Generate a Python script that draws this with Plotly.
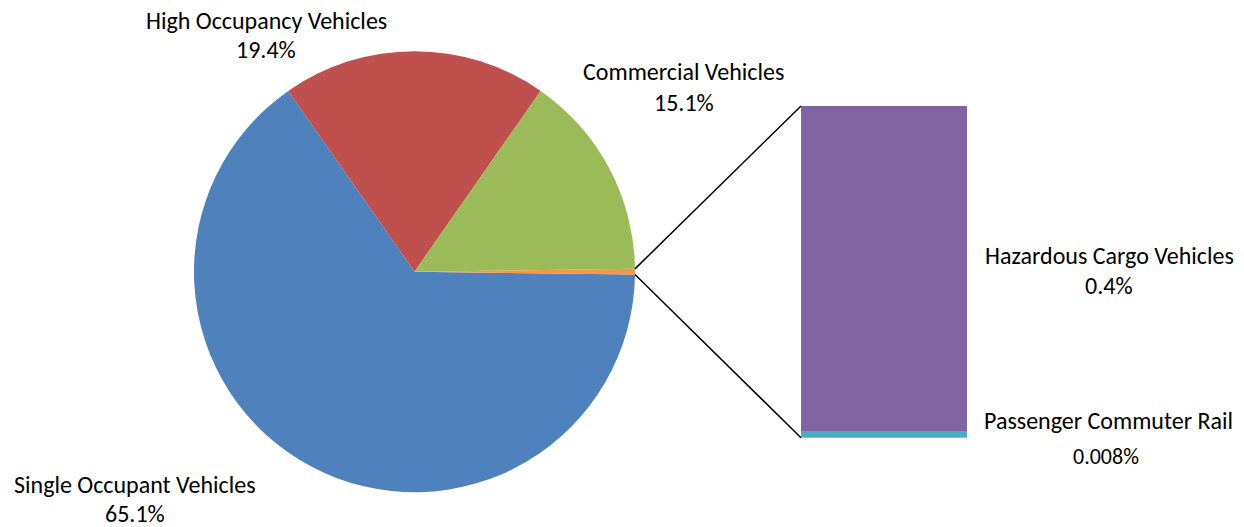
import math
import plotly.graph_objects as go

W, H = 1244, 527

# Main pie shares (percent); the last slice is broken out into the stacked bar
pie_labels = ["Single Occupant Vehicles", "High Occupancy Vehicles", "Commercial Vehicles", "Other"]
pie_values = [65.1, 19.4, 15.1, 0.408]
pie_colors = ["#4F81BD", "#C0504D", "#9BBB59", "#F79646"]

# Breakdown of the "Other" slice (percent)
bar_labels = ["Passenger Commuter Rail", "Hazardous Cargo Vehicles"]
bar_values = [0.008, 0.4]
bar_colors = ["#4BACC6", "#8064A2"]
bar_text = ["0.008%", "0.4%"]

FONT = "Carlito, Calibri, Lato, sans-serif"

# Pie geometry in pixels
cx, cy, r = 414.5, 271.7, 220.5
total = sum(pie_values)
other_deg = pie_values[-1] / total * 360.0
# Centre the broken-out slice on the 3 o'clock direction
rotation = 90 + other_deg / 2

fig = go.Figure()

fig.add_trace(go.Pie(
    labels=pie_labels,
    values=pie_values,
    marker=dict(colors=pie_colors, line=dict(width=0)),
    sort=False,
    direction="clockwise",
    rotation=rotation,
    textinfo="none",
    hoverinfo="label+percent",
    showlegend=False,
    domain=dict(x=[(cx - r) / W, (cx + r) / W],
                y=[(H - cy - r) / H, (H - cy + r) / H]),
))

for lab, val, col in zip(bar_labels, bar_values, bar_colors):
    fig.add_trace(go.Bar(
        x=["Other"], y=[val], name=lab,
        marker=dict(color=col, line=dict(width=0)),
        width=1.0, xaxis="x", yaxis="y", showlegend=False,
        hovertemplate=lab + ": %{y}%<extra></extra>",
    ))

bar_x0, bar_x1 = 801, 967
bar_top, bar_bot = 106, 437.7
other_total = sum(bar_values)

# Connector lines from the edges of the small slice to the bar corners
def edge_point(deg_from_3oclock):
    a = math.radians(deg_from_3oclock)
    px = cx + r * math.cos(a)
    py = cy - r * math.sin(a)
    return px / W, 1 - py / H

top_pt = edge_point(other_deg / 2)
bot_pt = edge_point(-other_deg / 2)
line_style = dict(color="#000000", width=1.5)
shapes = [
    dict(type="line", xref="paper", yref="paper", x0=top_pt[0], y0=top_pt[1],
         x1=bar_x0 / W, y1=1 - bar_top / H, line=line_style),
    dict(type="line", xref="paper", yref="paper", x0=bot_pt[0], y0=bot_pt[1],
         x1=bar_x0 / W, y1=1 - bar_bot / H, line=line_style),
]

def ann(text, x, y, size=24):
    return dict(text=text, x=x / W, y=1 - y / H, xref="paper", yref="paper",
                showarrow=False, xanchor="center", yanchor="middle", borderpad=0,
                font=dict(family=FONT, size=size, color="#000000"))

pct = [f"{v:.1f}%" for v in pie_values]
annotations = [
    ann(pie_labels[1], 266, 21), ann(pct[1], 266, 50),
    ann(pie_labels[2], 684, 72), ann(pct[2], 684, 102),
    ann(pie_labels[0], 135, 484.5), ann(pct[0], 135, 513.5),
    ann(bar_labels[1], 1109, 255), ann(bar_text[1], 1109, 285),
    ann(bar_labels[0], 1108, 420), ann(bar_text[0], 1106, 456, size=22),
]

fig.update_layout(
    width=W, height=H,
    margin=dict(l=0, r=0, t=0, b=0),
    paper_bgcolor="#FFFFFF", plot_bgcolor="rgba(0,0,0,0)",
    barmode="stack", bargap=0,
    xaxis=dict(domain=[bar_x0 / W, bar_x1 / W], range=[-0.5, 0.5],
               visible=False, fixedrange=True),
    yaxis=dict(domain=[1 - bar_bot / H, 1 - bar_top / H], range=[0, other_total],
               visible=False, fixedrange=True),
    shapes=shapes,
    annotations=annotations,
)

fig.write_html("out.html")
